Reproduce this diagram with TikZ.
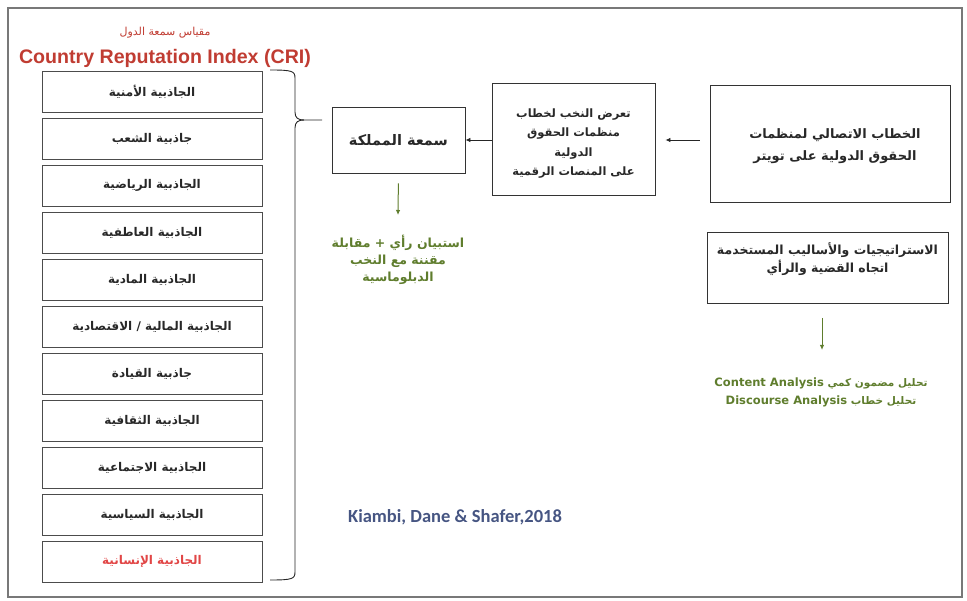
\documentclass[tikz,border=0pt]{standalone}
\usepackage{fontspec}
\setmainfont{Carlito}
\newfontfamily\arabicfont[Script=Arabic]{DejaVu Sans}
\newfontfamily\arialfont{Liberation Sans}
\TeXXeTstate=1
\usetikzlibrary{arrows.meta}
\newcommand\arb[1]{{\arabicfont\beginR #1\endR}}
\definecolor{titlered}{RGB}{192,60,50}
\definecolor{olive}{RGB}{95,125,45}
\definecolor{kblue}{RGB}{70,85,130}
\definecolor{humanred}{RGB}{225,70,70}
\definecolor{boxtext}{RGB}{40,40,40}
\definecolor{frameg}{RGB}{120,120,120}
\begin{document}
\begin{tikzpicture}[x=1pt,y=-1pt,
  frame/.style={draw=frameg,line width=1.5pt},
  fbox/.style={draw=black!70,line width=0.8pt,minimum width=220pt,minimum height=41pt,inner sep=0pt,text=boxtext,font=\bfseries\fontsize{12}{14}\selectfont},
  mainbox/.style={draw=black!80,line width=0.9pt,inner sep=0pt},
  boxlabel/.style={align=center,text=boxtext,inner sep=0pt},
  arr/.style={-{Latex[length=5pt,width=4.5pt]},line width=0.8pt,black!85},
  garr/.style={-{Latex[length=5pt,width=4.5pt]},line width=1pt,olive},
  gtext/.style={text=olive,align=center}
]
\useasboundingbox (0,0) rectangle (967,601);
\draw[frame] (8,8) rectangle (962,597);

% titles
\node[text=titlered,font=\fontsize{11}{13}\selectfont] (t1) at (165,33) {\arb{مقياس سمعة الدول}};
\node[text=titlered,font=\arialfont\bfseries\fontsize{19.6}{21}\selectfont] (t2) at (165,58) {Country Reputation Index (CRI)};

% factor boxes
\node[fbox] (f1) at (152,91.5) {\arb{الجاذبية الأمنية}};
\node[fbox] (f2) at (152,138.5) {\arb{جاذبية الشعب}};
\node[fbox] (f3) at (152,185.5) {\arb{الجاذبية الرياضية}};
\node[fbox] (f4) at (152,232.5) {\arb{الجاذبية العاطفية}};
\node[fbox] (f5) at (152,279.5) {\arb{الجاذبية المادية}};
\node[fbox] (f6) at (152,326.5) {\arb{الجاذبية المالية / الاقتصادية}};
\node[fbox] (f7) at (152,373.5) {\arb{جاذبية القيادة}};
\node[fbox] (f8) at (152,420.5) {\arb{الجاذبية الثقافية}};
\node[fbox] (f9) at (152,467.5) {\arb{الجاذبية الاجتماعية}};
\node[fbox] (f10) at (152,514.5) {\arb{الجاذبية السياسية}};
\node[fbox,text=humanred] (f11) at (152,561.5) {\arb{الجاذبية الإنسانية}};

% brace
\coordinate (tip) at (322,120);
\draw[line width=0.9pt,black!85] (270,70) .. controls (292,70) and (295,71) .. (295,78) -- (295,112)
  .. controls (295,118) and (298,120) .. (304,120) -- (tip);
\draw[line width=0.9pt,black!85] (304,120) .. controls (298,120) and (295,122) .. (295,128) -- (295,572)
  .. controls (295,579) and (292,580) .. (270,580);

% main boxes
\node[mainbox,minimum width=133pt,minimum height=66pt] (sm) at (398.5,140) {};
\node[boxlabel,font=\bfseries\fontsize{14.5}{16}\selectfont] (smt) at (398.5,140) {\arb{سمعة المملكة}};
\node[mainbox,minimum width=163pt,minimum height=112pt] (mb) at (573.5,139) {};
\node[boxlabel,font=\bfseries\fontsize{11.5}{19.5}\selectfont] (mbt) at (573.5,143.5) {\arb{تعرض النخب لخطاب}\\\arb{منظمات الحقوق}\\\arb{الدولية}\\\arb{على المنصات الرقمية}};
\node[mainbox,minimum width=240pt,minimum height=117pt] (rb) at (830,143.5) {};
\node[boxlabel,font=\bfseries\fontsize{13}{22}\selectfont] (rbt) at (835,146) {\arb{الخطاب الاتصالي لمنظمات}\\\arb{الحقوق الدولية على تويتر}};
\node[mainbox,minimum width=241pt,minimum height=71pt] (st) at (827.5,267.5) {};
\node[boxlabel,font=\bfseries\fontsize{12.5}{17.5}\selectfont] (stt) at (827.5,259) {\arb{الاستراتيجيات والأساليب المستخدمة}\\\arb{اتجاه القضية والرأي}};

% black arrows
\draw[arr,shorten <=10pt,shorten >=10pt] (rb.west |- 0,140) -- (mb.east |- 0,140);
\draw[arr] (mb.west |- 0,140) -- (sm.east);

% green texts
\node[gtext,font=\bfseries\fontsize{12.5}{17}\selectfont] (g1) at (398,260) {\arb{استبيان رأي + مقابلة}\\\arb{مقننة مع النخب}\\\arb{الدبلوماسية}};
\node[gtext,font=\bfseries\fontsize{10.5}{18}\selectfont] (g2) at (821,392.5) {\arb{تحليل مضمون كمي \beginL{\fontsize{11.5}{18}\selectfont Content Analysis}\endL{}}\\\arb{تحليل خطاب \beginL{\fontsize{11.5}{18}\selectfont Discourse Analysis}\endL{}}};

\coordinate (gs) at (822,318);
\draw[garr,shorten <=10pt] (sm.south) -- (398,215);
\draw[garr] (gs) -- (822,350);

% citation
\node[text=kblue,font=\bfseries\fontsize{18.5}{21}\selectfont] (cite) at (455,517) {Kiambi, Dane \& Shafer,2018};
\end{tikzpicture}
\end{document}
